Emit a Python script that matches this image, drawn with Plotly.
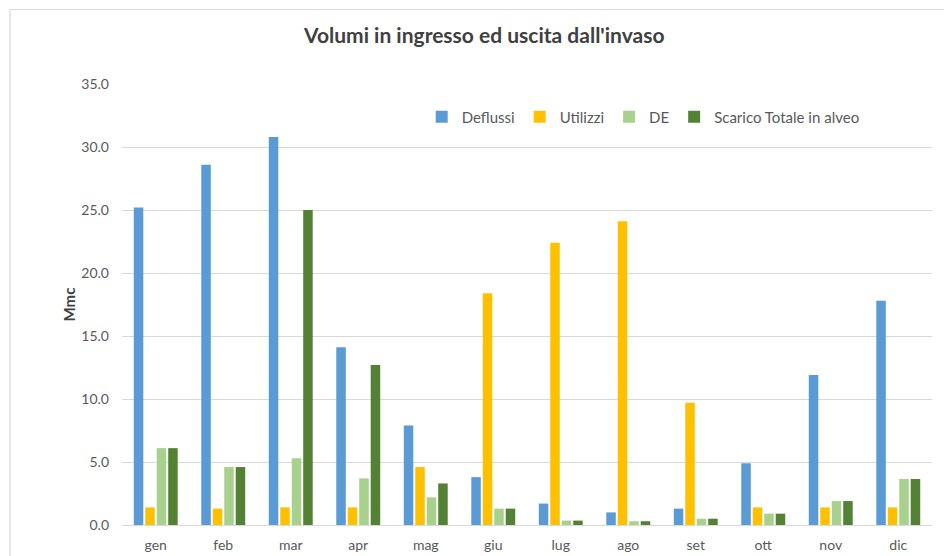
import plotly.graph_objects as go

months = ["gen", "feb", "mar", "apr", "mag", "giu", "lug", "ago", "set", "ott", "nov", "dic"]
deflussi = [25.2, 28.6, 30.8, 14.1, 7.9, 3.8, 1.7, 1.0, 1.3, 4.9, 11.9, 17.8]
utilizzi = [1.4, 1.3, 1.4, 1.4, 4.6, 18.4, 22.4, 24.1, 9.7, 1.4, 1.4, 1.4]
de = [6.1, 4.6, 5.3, 3.7, 2.2, 1.3, 0.35, 0.3, 0.5, 0.9, 1.9, 3.65]
scarico = [6.1, 4.6, 25.0, 12.7, 3.3, 1.3, 0.35, 0.3, 0.5, 0.9, 1.9, 3.65]

series = [
    ("Deflussi", deflussi, "#5B9BD5"),
    ("Utilizzi", utilizzi, "#FFC000"),
    ("DE", de, "#A9D18E"),
    ("Scarico Totale in alveo", scarico, "#548235"),
]

FONT = "Lato, 'Open Sans', sans-serif"

fig = go.Figure()
for name, vals, col in series:
    fig.add_trace(go.Bar(
        x=months, y=vals, name=name,
        marker=dict(color=col, line=dict(width=0)),
    ))

fig.update_layout(
    width=944, height=556,
    margin=dict(l=122, r=12, t=84, b=31, autoexpand=False),
    paper_bgcolor="white", plot_bgcolor="white",
    barmode="group", bargap=0.32, bargroupgap=0.17,
    font=dict(family=FONT, color="#595959", size=14),
    title=dict(
        text="Volumi in ingresso ed uscita dall'invaso",
        x=0.513, xanchor="center", y=0.935, yanchor="middle",
        font=dict(size=21, color="#404040", family=FONT, weight="bold"),
    ),
    legend=dict(
        orientation="h", x=0.37, xanchor="left", y=0.925, yanchor="middle",
        font=dict(size=15, color="#595959"), bgcolor="rgba(0,0,0,0)",
        itemwidth=30, itemsizing="constant", tracegroupgap=0,
    ),
    showlegend=True,
)

fig.update_xaxes(
    automargin=False,
    showgrid=False, showline=False, ticks="",
    tickfont=dict(size=14, color="#595959"), ticklabelstandoff=10,
)
fig.update_yaxes(
    automargin=False,
    range=[0, 35], dtick=5, tickformat=".1f",
    showgrid=True, gridcolor="#D9D9D9", gridwidth=1,
    zeroline=True, zerolinecolor="#D9D9D9", zerolinewidth=1,
    showline=False, ticks="",
    tickfont=dict(size=14, color="#595959"), ticklabelstandoff=12,
    title=dict(text="Mmc", font=dict(size=15, color="#404040", weight="bold"), standoff=2),
)

# chart border (Excel chart area outline)
fig.add_shape(
    type="line", xref="paper", yref="paper",
    x0=(10 - 122) / 810, x1=(944 - 122) / 810,
    y0=(525 - 9.5) / 441, y1=(525 - 9.5) / 441,
    line=dict(color="#D9D9D9", width=1.2),
)
fig.add_shape(
    type="line", xref="paper", yref="paper",
    x0=(10 - 122) / 810, x1=(10 - 122) / 810,
    y0=(525 - 9.5) / 441, y1=(525 - 560) / 441,
    line=dict(color="#D9D9D9", width=1.2),
)

fig.write_html("out.html")
